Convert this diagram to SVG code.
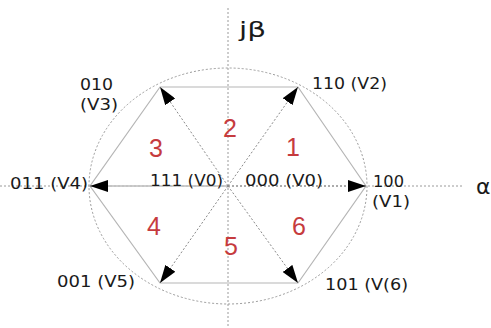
<svg xmlns="http://www.w3.org/2000/svg" width="491" height="328" viewBox="0 0 491 328">
<style>
.lbl{font-family:"DejaVu Sans","Liberation Sans",Arial,sans-serif;font-size:16px;fill:#1a1a1a}
.num{font-family:"Liberation Sans",Arial,sans-serif;font-size:25px;fill:#c63b3e}
.ax{font-family:"DejaVu Sans","Liberation Sans",Arial,sans-serif;font-size:22px;fill:#1a1a1a}
.dot{stroke:#9a9a9a;stroke-width:1;stroke-dasharray:2,2;fill:none}
.hex{stroke:#b5b5b5;stroke-width:1.2;fill:none}
.vec{stroke:#8a8a8a;stroke-width:1;stroke-dasharray:2,2;fill:none;marker-end:url(#ah)}
</style>
<defs>
<marker id="ah" markerUnits="userSpaceOnUse" viewBox="0 0 18 12" markerWidth="18" markerHeight="12" refX="18" refY="6" orient="auto">
<path d="M0,0 L18,6 L0,12 z" fill="#000"/>
</marker>
</defs>
<rect width="491" height="328" fill="#fff"/>
<g id="axes">
<line class="dot" x1="0" y1="186" x2="462" y2="186"/>
<line class="dot" x1="228" y1="8" x2="228" y2="328"/>
<ellipse class="dot" cx="228" cy="186" rx="139" ry="118"/>
<text class="ax" x="239" y="37" textLength="27" lengthAdjust="spacingAndGlyphs">jβ</text>
<text class="ax" x="476" y="194">α</text>
</g>
<g id="hexagon">
<polygon class="hex" points="366,186 298,87 160,87 90,186 160,283 298,283"/>
</g>
<g id="connectors">
<line class="vec" x1="228" y1="186" x2="366" y2="186"/>
<line class="vec" x1="228" y1="186" x2="298" y2="87"/>
<line class="vec" x1="228" y1="186" x2="160" y2="87"/>
<line class="vec" x1="228" y1="186" x2="90" y2="186"/>
<line class="vec" x1="228" y1="186" x2="160" y2="283"/>
<line class="vec" x1="228" y1="186" x2="298" y2="283"/>
</g>
<g id="v1"><text class="lbl" x="373" y="187" textLength="31" lengthAdjust="spacingAndGlyphs">100</text><text class="lbl" x="372" y="207" textLength="38" lengthAdjust="spacingAndGlyphs">(V1)</text></g>
<g id="v2"><text class="lbl" x="312" y="89" textLength="75" lengthAdjust="spacingAndGlyphs">110 (V2)</text></g>
<g id="v3"><text class="lbl" x="80" y="90" textLength="33" lengthAdjust="spacingAndGlyphs">010</text><text class="lbl" x="80" y="110" textLength="38" lengthAdjust="spacingAndGlyphs">(V3)</text></g>
<g id="v4"><text class="lbl" x="10" y="189" textLength="78" lengthAdjust="spacingAndGlyphs">011 (V4)</text></g>
<g id="v5"><text class="lbl" x="57" y="287" textLength="78" lengthAdjust="spacingAndGlyphs">001 (V5)</text></g>
<g id="v6"><text class="lbl" x="325" y="290" textLength="83" lengthAdjust="spacingAndGlyphs">101 (V(6)</text></g>
<g id="v0a"><text class="lbl" x="150" y="186" textLength="73" lengthAdjust="spacingAndGlyphs">111 (V0)</text></g>
<g id="v0b"><text class="lbl" x="245" y="186" textLength="78" lengthAdjust="spacingAndGlyphs">000 (V0)</text></g>
<g id="sectors">
<text class="num" x="286" y="156">1</text>
<text class="num" x="223" y="137">2</text>
<text class="num" x="149" y="157">3</text>
<text class="num" x="147" y="235">4</text>
<text class="num" x="224" y="255">5</text>
<text class="num" x="292" y="235">6</text>
</g>
</svg>
